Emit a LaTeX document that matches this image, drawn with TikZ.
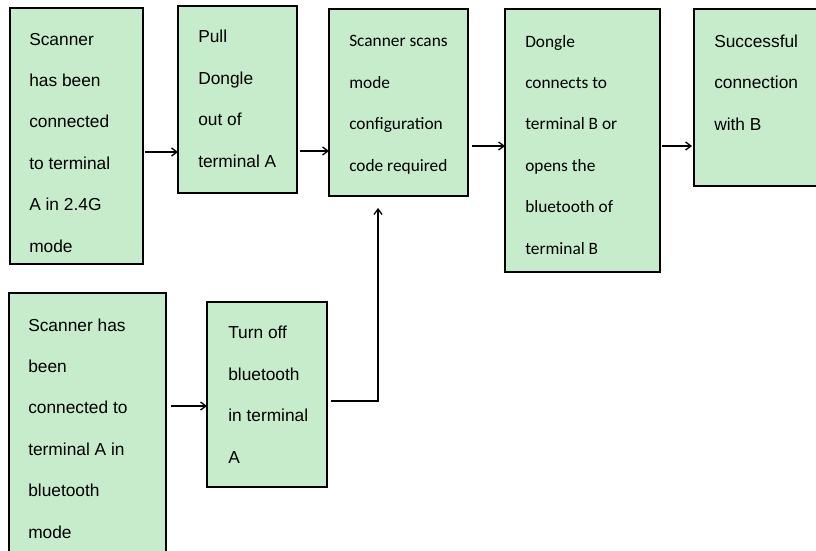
\documentclass[tikz,border=0pt]{standalone}
\usepackage{fontspec}
\setmainfont{Liberation Sans}
\newfontfamily\calfont{Carlito}
\usetikzlibrary{calc,arrows.meta}
\definecolor{boxgreen}{RGB}{198,236,204}
\tikzset{
  stepbox/.style={draw=black, line width=1pt, fill=boxgreen, inner sep=0pt, outer sep=0pt},
  boxtext/.style={anchor=base west, inner sep=0pt, align=left, font=\fontsize{13}{31.05}\selectfont},
  caltext/.style={boxtext, font=\fontsize{13}{31.05}\selectfont\calfont},
  arr/.style={line width=0.9pt, -{Straight Barb[length=4pt,width=6pt,line width=1pt]}}
}
\begin{document}
\begin{tikzpicture}[x=0.75pt,y=-0.75pt]
\clip (0,0) rectangle (816,550);
% boxes
\path (10,8) node[stepbox, anchor=north west, minimum width=133*0.75pt, minimum height=256*0.75pt] (b1) {};
\path (178,6) node[stepbox, anchor=north west, minimum width=119*0.75pt, minimum height=187*0.75pt] (b2) {};
\path (329,9) node[stepbox, anchor=north west, minimum width=139*0.75pt, minimum height=187*0.75pt] (b3) {};
\path (505,9) node[stepbox, anchor=north west, minimum width=155*0.75pt, minimum height=263*0.75pt] (b4) {};
\path (694,9) node[stepbox, anchor=north west, minimum width=136*0.75pt, minimum height=177*0.75pt] (b5) {};
\path (9,293) node[stepbox, anchor=north west, minimum width=157*0.75pt, minimum height=277*0.75pt] (b6) {};
\path (207,302) node[stepbox, anchor=north west, minimum width=120*0.75pt, minimum height=185*0.75pt] (b7) {};
% texts (anchor at the baseline of the last line)
\node[boxtext] (t1) at (29,252) {Scanner\\has been\\connected\\to terminal\\A in 2.4G\\mode};
\node[boxtext] (t2) at (198,167) {Pull\\Dongle\\out of\\terminal A};
\node[caltext] (t3) at (349,171) {Scanner scans\\mode\\configuration\\code required};
\node[caltext] (t4) at (525,254) {Dongle\\connects to\\terminal B or\\opens the\\bluetooth of\\terminal B};
\node[boxtext] (t5) at (714,130) {Successful\\connection\\with B};
\node[boxtext] (t6) at (28,538) {Scanner has\\been\\connected to\\terminal A in\\bluetooth\\mode};
\node[boxtext] (t7) at (228,463) {Turn off\\bluetooth\\in terminal\\A};
% connectors
\draw[arr] ($(b1.east)+(2,16)$) coordinate (a1) -- (a1 -| b2.west);
\draw[arr] ($(b2.east)+(3,51.5)$) coordinate (a2) -- (a2 -| b3.west);
\draw[arr] ($(b3.east)+(4,43.5)$) coordinate (a3) -- (a3 -| b4.west);
\draw[arr] ($(b4.east)+(2,5.5)$) coordinate (a4) -- ($(a4 -| b5.west)+(-2,0)$);
\draw[arr] ($(b6.east)+(5,-25.5)$) coordinate (a5) -- (a5 -| b7.west);
\draw[arr] ($(b7.east)+(4,6.5)$) -| ($(b3.south)+(-20.5,12)$);
\end{tikzpicture}
\end{document}
